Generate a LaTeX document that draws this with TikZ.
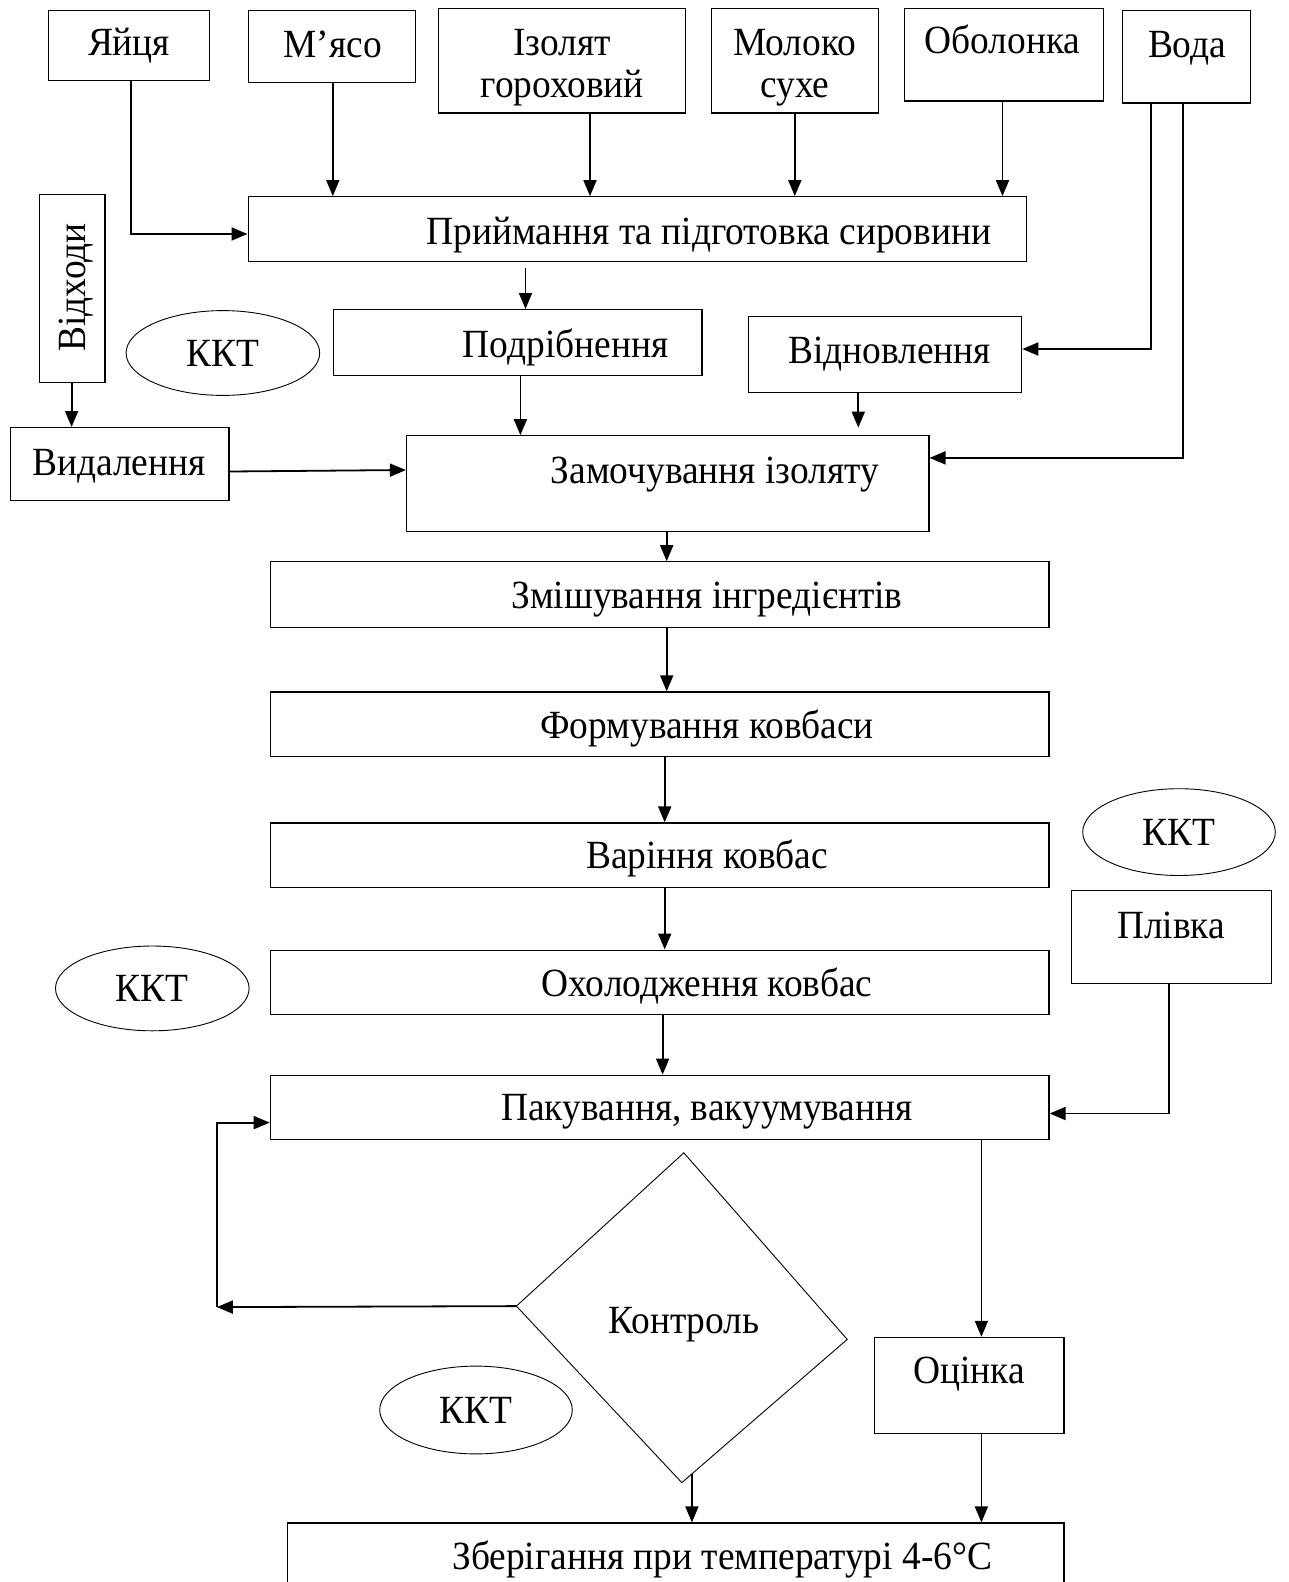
\documentclass[tikz,border=0pt]{standalone}
\usepackage{fontspec}
\setmainfont{Liberation Serif}[FakeStretch=0.935]
\usetikzlibrary{arrows.meta,fit,shapes.geometric}
\tikzset{
  box/.style={draw, line width=1.2pt, inner sep=0pt},
  txt/.style={font=\fontsize{40}{44}\selectfont, inner sep=0pt, text height=26.5pt, text depth=0pt},
  kkt/.style={draw, ellipse, line width=0.9pt, inner sep=0pt, font=\fontsize{40}{44}\selectfont},
  arr/.style={line width=1.8pt, -{Triangle[length=16pt,width=13pt]}},
  ln/.style={line width=1.8pt},
  thin/.style={line width=0.9pt}
}
\begin{document}
\begin{tikzpicture}[x=1pt,y=-1pt]
\clip (0,0) rectangle (1288,1582);
\fill[white] (0,0) rectangle (1288,1582);

% top row
\node[box, fit={(48.4,10.1) (209.8,80.7)}] (egg) {};
\node[txt] (egg-t) at (129.1,42.4) {Яйця};
\node[box, fit={(248.1,10.1) (415.5,82.7)}] (meat) {};
\node[txt] (meat-t) at (332.8,44.4) {М’ясо};
\node[box, fit={(438.7,8.1) (685.8,113)}] (iso) {};
\node[txt] (iso-t1) at (562.2,42.4) {Ізолят};
\node[txt] (iso-t2) at (562.2,84.7) {гороховий};
\node[box, fit={(711.1,8.1) (878.5,113)}] (milk) {};
\node[txt] (milk-t1) at (794.8,42.4) {Молоко};
\node[txt] (milk-t2) at (794.8,84.7) {сухе};
\node[box, fit={(904.7,8.1) (1103.4,100.9)}] (casing) {};
\node[txt] (casing-t) at (1002.5,40.3) {Оболонка};
\node[box, fit={(1122.6,10.1) (1250.7,102.9)}] (water) {};
\node[txt] (water-t) at (1187.1,44.4) {Вода};

% receiving
\node[box, fit={(248.1,196.7) (1026.8,261.2)}] (recv) {};
\node[txt] (recv-t) at (709,231) {Приймання та підготовка сировини};

% waste
\node[box, fit={(39.3,194.7) (104.9,382.3)}] (waste) {};
\node[txt, rotate=90] (waste-t) at (72.6,287.5) {Відходи};

\node[kkt, minimum width=193.6pt, minimum height=84.8pt] (k1) at (222.9,353) {ККТ};

\node[box, fit={(333.8,309.6) (702,375.2)}] (grind) {};
\node[txt] (grind-t) at (565.8,343.9) {Подрібнення};
\node[box, fit={(748.4,316.7) (1021.7,392.3)}] (restore) {};
\node[txt] (restore-t) at (889.6,350) {Відновлення};
\node[box, fit={(10.1,427.6) (229,500.3)}] (remove) {};
\node[txt] (remove-t) at (119,462) {Видалення};
\node[box, fit={(406.5,435.7) (928.9,531.5)}] (soak) {};
\node[txt] (soak-t) at (715,470) {Замочування ізоляту};

\node[box, fit={(270.3,561.8) (1049,627.3)}] (mix) {};
\node[txt] (mix-t) at (707,595) {Змішування інгредієнтів};
\node[box, fit={(270.3,691.9) (1049,756.5)}] (form) {};
\node[txt] (form-t) at (707,725.2) {Формування ковбаси};
\node[box, fit={(270.3,823) (1049,887.6)}] (cook) {};
\node[txt] (cook-t) at (707,855.3) {Варіння ковбас};

\node[kkt, minimum width=192.6pt, minimum height=86.8pt] (k2) at (1179,832.1) {ККТ};
\node[box, fit={(1071.1,890.6) (1271.8,983.4)}] (film) {};
\node[txt] (film-t) at (1171,924.9) {Плівка};

\node[box, fit={(270.3,950.1) (1049,1014.7)}] (cool) {};
\node[txt] (cool-t) at (707,983.4) {Охолодження ковбас};
\node[kkt, minimum width=193.6pt, minimum height=84.8pt] (k3) at (152.3,988.4) {ККТ};

\node[box, fit={(270.3,1075.2) (1049,1139.7)}] (pack) {};
\node[txt] (pack-t) at (707,1107.4) {Пакування, вакуумування};

% control diamond
\coordinate (dT) at (683.8,1152.8);
\coordinate (dL) at (516.4,1306.1);
\coordinate (dR) at (847.2,1339.4);
\coordinate (dB) at (681.8,1482.6);
\draw[thin] (dT) -- (dR) -- (dB) -- (dL) -- cycle;
\node[txt] (ctrl-t) at (683.8,1320.3) {Контроль};

\node[box, fit={(874.5,1337.4) (1064,1433.2)}] (eval) {};
\node[txt] (eval-t) at (969.3,1370.7) {Оцінка};
\node[kkt, minimum width=192.6pt, minimum height=87.8pt] (k4) at (476,1410) {ККТ};

\node[box, fit={(287.5,1523) (1064,1600)}] (store) {};
\node[txt] (store-t) at (722.2,1556.3) {Зберігання при температурі 4-6°C};

% connectors
\draw[arr] (egg.south -| 131.1,0) |- (recv.west |- 0,234);
\draw[arr] (meat.south -| 332.8,0) -- (recv.north -| 332.8,0);
\draw[arr] (iso.south -| 590,0) -- (recv.north -| 590,0);
\draw[arr] (milk.south -| 794.8,0) -- (recv.north -| 794.8,0);
\draw[arr] (casing.south -| 1002.5,0) -- (recv.north -| 1002.5,0);

\coordinate (r1) at (525.5,268.3);
\draw[arr] (r1) -- (grind.north -| r1);

\draw[arr] (water.south -| 1150.8,0) |- (restore.east |- 0,349);
\draw[arr] (water.south -| 1183.1,0) |- (soak.east |- 0,457.9);

\coordinate (s1) at (858.3,427.6);
\draw[arr] (restore.south -| s1) -- (s1);
\draw[arr] (grind.south -| 520.4,0) -- (soak.north -| 520.4,0);
\draw[arr] (waste.south -| 71.6,0) -- (remove.north -| 71.6,0);
\draw[arr] (remove.east |- 0,471.5) -- (soak.west |- 0,470);

\draw[arr] (soak.south -| 666.7,0) -- (mix.north -| 666.7,0);
\draw[arr] (mix.south -| 666.7,0) -- (form.north -| 666.7,0);
\draw[arr] (form.south -| 664.7,0) -- (cook.north -| 664.7,0);
\draw[arr] (cook.south -| 664.7,0) -- (cool.north -| 664.7,0);
\draw[arr] (cool.south -| 662.6,0) -- (pack.north -| 662.6,0);

\draw[arr] (film.south -| 1169,0) |- (pack.east |- 0,1113.5);
\draw[arr] (pack.south -| 981.4,0) -- (eval.north -| 981.4,0);
\draw[arr] (eval.south -| 981.4,0) -- (store.north -| 981.4,0);

\coordinate (lp) at (216.8,1307.1);
\draw[arr] (dL) -- (lp);
\draw[arr] (lp) |- (pack.west |- 0,1122.6);

\coordinate (db) at (691.9,1473.6);
\draw[arr] (db) -- (store.north -| db);
\end{tikzpicture}
\end{document}
